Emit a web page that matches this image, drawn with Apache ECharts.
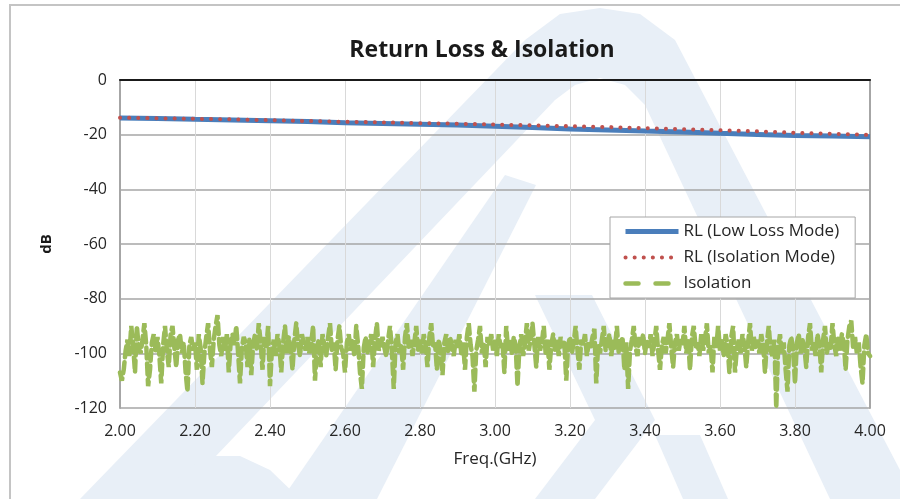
<!DOCTYPE html>
<html lang="en">

<head>
    <meta charset="UTF-8">
    <script src="https://cdn.jsdelivr.net/npm/echarts@6/dist/echarts.min.js"></script>
    <title>Return Loss & Isolation</title>
</head>

<style>
    html, body {
        margin: 0;
        padding: 0;
        background: #fff;
    }

    #chart {
        width: 900px;
        height: 499px;
    }
</style>

<body>
    <div id="chart"></div>

    <script>
        // return loss, sampled every 0.1 GHz
        let rlFreq = [2.0, 2.1, 2.2, 2.3, 2.4, 2.5, 2.6, 2.7, 2.8, 2.9, 3.0,
            3.1, 3.2, 3.3, 3.4, 3.5, 3.6, 3.7, 3.8, 3.9, 4.0];
        let rlLowLoss = [-13.9, -14.1, -14.4, -14.6, -14.9, -15.2, -15.6, -15.9, -16.2, -16.5, -16.9,
            -17.4, -17.9, -18.3, -18.7, -19.0, -19.5, -19.9, -20.3, -20.5, -20.8];
        let rlIsoMode = [-13.8, -14.0, -14.2, -14.4, -14.7, -15.0, -15.3, -15.5, -15.8, -16.0, -16.3,
            -16.6, -16.9, -17.2, -17.6, -18.0, -18.4, -18.8, -19.3, -19.7, -20.1];

        // isolation, one row per 0.1 GHz, 0.005 GHz apart
        let isoStart = 2.0;
        let isoStep = 0.005;
        let isolation = [
            -107, -110, -106, -99, -95, -101, -90, -97, -107, -90, -98, -100, -95, -89, -97, -112, -106, -96, -93, -99,
            -94, -101, -111, -97, -90, -99, -105, -93, -90, -98, -105, -95, -93, -100, -96, -107, -114, -97, -94, -99,
            -96, -106, -93, -98, -111, -100, -94, -89, -99, -105, -95, -90, -86, -97, -101, -94, -99, -93, -107, -96,
            -93, -97, -90, -100, -111, -98, -94, -96, -105, -95, -108, -97, -93, -99, -89, -96, -106, -94, -98, -90,
            -112, -99, -95, -101, -93, -97, -107, -96, -90, -100, -94, -98, -106, -95, -89, -97, -101, -93, -96, -99,
            -94, -100, -96, -90, -110, -98, -95, -105, -93, -97, -101, -94, -89, -99, -96, -106, -95, -90, -98, -100,
            -107, -96, -93, -99, -95, -101, -90, -97, -107, -113, -98, -94, -100, -96, -93, -105, -95, -89, -99, -97,
            -94, -98, -101, -95, -90, -99, -113, -96, -93, -100, -97, -106, -94, -89, -98, -95, -101, -96, -90, -99,
            -95, -100, -93, -97, -105, -94, -89, -98, -96, -106, -95, -99, -108, -96, -93, -100, -94, -97, -101, -95,
            -98, -93, -100, -96, -106, -94, -89, -97, -101, -114, -99, -95, -90, -100, -96, -105, -94, -97, -93, -99,
            -95, -101, -93, -98, -96, -107, -90, -99, -95, -100, -94, -97, -112, -98, -93, -101, -96, -89, -99, -95,
            -89, -97, -105, -94, -99, -96, -90, -100, -95, -106, -97, -93, -99, -95, -101, -94, -98, -96, -110, -97,
            -94, -100, -96, -90, -99, -106, -95, -97, -93, -101, -96, -98, -94, -91, -111, -97, -100, -95, -90, -99,
            -96, -93, -101, -95, -98, -90, -100, -97, -94, -106, -96, -113, -99, -95, -90, -98, -101, -94, -97, -93,
            -100, -95, -98, -93, -101, -96, -90, -99, -106, -97, -94, -100, -95, -89, -98, -105, -96, -93, -99, -95,
            -97, -90, -100, -95, -106, -94, -90, -98, -96, -101, -93, -99, -95, -89, -100, -97, -107, -94, -98, -90,
            -99, -95, -101, -93, -97, -107, -94, -90, -107, -98, -95, -100, -93, -97, -105, -96, -89, -99, -94, -98,
            -95, -100, -93, -97, -107, -96, -90, -99, -101, -95, -120, -98, -93, -100, -96, -106, -114, -97, -94, -99,
            -111, -96, -93, -100, -95, -98, -105, -94, -89, -99, -96, -101, -93, -97, -107, -95, -90, -100, -96, -98,
            -89, -97, -101, -94, -99, -93, -96, -106, -95, -90, -88, -98, -94, -100, -96, -105, -111, -97, -93, -100,
            -101
        ];

        let xTicks = { min: 2, max: 4, interval: 0.2 };
        let yTicks = { min: -120, max: 0, interval: 20 };

        let font = 'Open Sans';
        let wmColor = '#e8eff7';

        function pairs(xs, ys) {
            return ys.map(function (v, i) { return [xs[i], v]; });
        }

        function mark(points) {
            return { type: 'polygon', z: -10, silent: true, shape: { points: points }, style: { fill: wmColor } };
        }

        let isoData = isolation.map(function (v, i) {
            return [+(isoStart + i * isoStep).toFixed(3), v];
        });

        option = {
            backgroundColor: '#fff',
            animation: false,
            title: {
                text: 'Return Loss & Isolation',
                left: 477,
                top: 34,
                textAlign: 'center',
                textStyle: {
                    fontFamily: font,
                    fontSize: 23,
                    fontWeight: 'bold',
                    color: '#1a1a1a'
                }
            },
            graphic: [
                // faint logo watermark
                mark([[80, 499], [175, 499], [555, 100], [575, 85], [600, 78], [625, 85], [645, 105], [830, 499],
                    [900, 499], [900, 470], [675, 40], [640, 14], [600, 8], [560, 14], [525, 40]]),
                mark([[282, 499], [505, 175], [536, 185], [377, 499]]),
                mark([[535, 295], [592, 295], [655, 420], [595, 499], [535, 499], [595, 420]]),
                mark([[160, 499], [185, 470], [210, 456], [240, 456], [270, 470], [300, 499]]),
                mark([[655, 435], [700, 435], [728, 499], [683, 499]]),
                // chart area frame
                { type: 'rect', z: 100, silent: true, shape: { x: 10, y: 5, width: 900, height: 510 }, style: { fill: null, stroke: '#c4c4c4', lineWidth: 2 } }
            ],
            legend: {
                orient: 'vertical',
                left: 610,
                top: 217,
                backgroundColor: '#fff',
                borderColor: '#a6a6a6',
                borderWidth: 1,
                borderRadius: 0,
                padding: [6, 16, 6, 13],
                itemWidth: 53,
                itemHeight: 12,
                itemGap: 9,
                itemStyle: { opacity: 0 },
                textStyle: {
                    fontFamily: font,
                    fontSize: 17,
                    color: '#262626'
                },
                data: [
                    { name: 'RL (Low Loss Mode)', lineStyle: { width: 5 } },
                    { name: 'RL (Isolation Mode)', lineStyle: { width: 4 } },
                    { name: 'Isolation', lineStyle: { width: 4.5, type: [13, 17] } }
                ]
            },
            grid: {
                left: 120,
                right: 30,
                top: 80,
                bottom: 91
            },
            xAxis: [{
                type: 'value',
                min: xTicks.min,
                max: xTicks.max,
                interval: xTicks.interval,
                name: 'Freq.(GHz)',
                nameLocation: 'middle',
                nameGap: 43,
                nameTextStyle: {
                    fontFamily: font,
                    fontSize: 17,
                    color: '#262626'
                },
                axisLine: {
                    lineStyle: { color: '#a6a6a6', width: 2 }
                },
                axisTick: { show: false },
                axisLabel: {
                    margin: 15,
                    fontFamily: font,
                    fontSize: 16,
                    color: '#262626',
                    formatter: function (v) { return v.toFixed(2); }
                },
                splitLine: {
                    show: true,
                    lineStyle: { color: '#d9d9d9', width: 1 }
                }
            }, {
                type: 'value',
                position: 'top',
                min: xTicks.min,
                max: xTicks.max,
                axisLine: {
                    lineStyle: { color: '#1a1a1a', width: 2 }
                },
                axisTick: { show: false },
                axisLabel: { show: false },
                splitLine: { show: false }
            }],
            yAxis: [{
                type: 'value',
                min: yTicks.min,
                max: yTicks.max,
                interval: yTicks.interval,
                name: 'dB',
                nameLocation: 'middle',
                nameGap: 66,
                nameRotate: 90,
                nameTextStyle: {
                    fontFamily: font,
                    fontSize: 15,
                    fontWeight: 'bold',
                    color: '#1a1a1a'
                },
                axisLine: {
                    show: true,
                    lineStyle: { color: '#a6a6a6', width: 2 }
                },
                axisTick: { show: false },
                axisLabel: {
                    margin: 13,
                    fontFamily: font,
                    fontSize: 16,
                    color: '#262626'
                },
                splitLine: {
                    lineStyle: { color: '#a6a6a6', width: 1.5 }
                }
            }, {
                type: 'value',
                position: 'right',
                min: yTicks.min,
                max: yTicks.max,
                axisLine: {
                    show: true,
                    lineStyle: { color: '#a6a6a6', width: 2 }
                },
                axisTick: { show: false },
                axisLabel: { show: false },
                splitLine: { show: false }
            }],
            series: [
                {
                    name: 'Isolation',
                    type: 'line',
                    data: isoData,
                    showSymbol: false,
                    symbol: 'none',
                    z: 2,
                    lineStyle: {
                        color: '#9bbb59',
                        width: 4.5,
                        type: [11, 5],
                        cap: 'round'
                    },
                    itemStyle: { color: '#9bbb59' }
                },
                {
                    name: 'RL (Low Loss Mode)',
                    type: 'line',
                    data: pairs(rlFreq, rlLowLoss),
                    showSymbol: false,
                    symbol: 'none',
                    z: 3,
                    lineStyle: {
                        color: '#4a7ebb',
                        width: 5
                    },
                    itemStyle: { color: '#4a7ebb' }
                },
                {
                    name: 'RL (Isolation Mode)',
                    type: 'line',
                    data: pairs(rlFreq, rlIsoMode),
                    showSymbol: false,
                    symbol: 'none',
                    z: 4,
                    lineStyle: {
                        color: '#c0504d',
                        width: 4,
                        type: [0.1, 9],
                        cap: 'round'
                    },
                    itemStyle: { color: '#c0504d' }
                }
            ]
        };

        var myChart = echarts.init(document.getElementById('chart'));
        myChart.setOption(option);
    </script>
</body>

</html>
